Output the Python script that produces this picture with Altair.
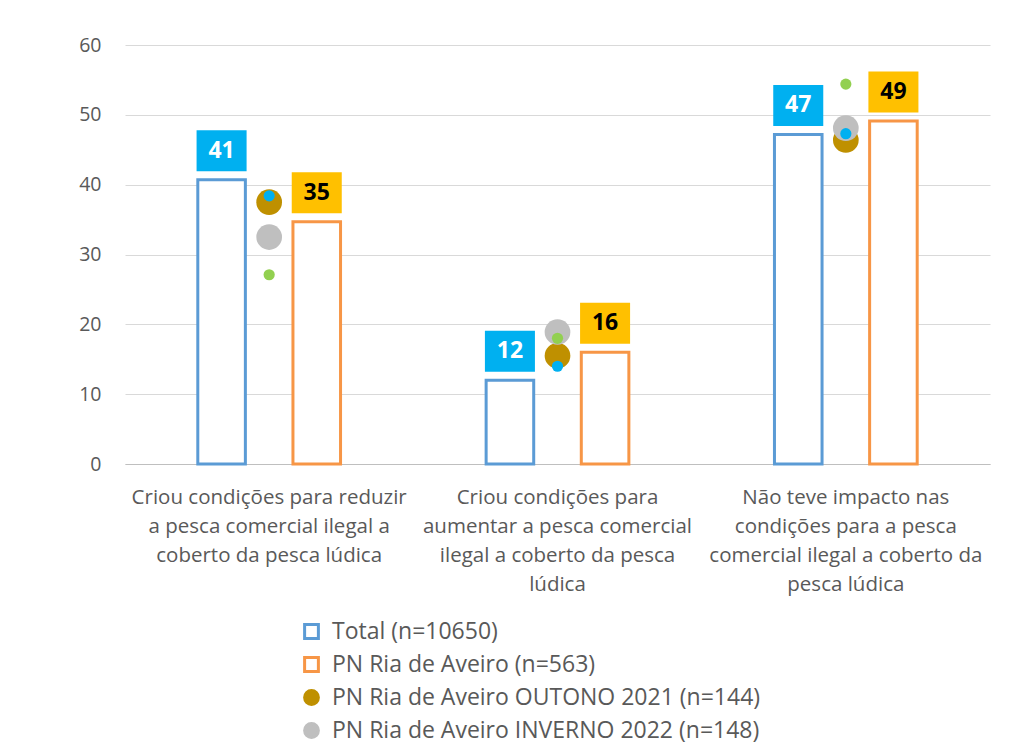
import altair as alt
import pandas as pd

categories = [
    "Criou condições para reduzir|a pesca comercial ilegal a|coberto da pesca lúdica",
    "Criou condições para|aumentar a pesca comercial|ilegal a coberto da pesca|lúdica",
    "Não teve impacto nas|condições para a pesca|comercial ilegal a coberto da|pesca lúdica",
]
total = [40.7, 12.0, 47.2]
pn_total = [34.7, 16.0, 49.1]
outono = [37.5, 15.5, 46.4]
inverno = [32.5, 18.9, 48.1]
blue_dots = [38.4, 14.0, 47.3]
green_dots = [27.1, 18.0, 54.4]
legend_labels = [
    "Total (n=10650)",
    "PN Ria de Aveiro (n=563)",
    "PN Ria de Aveiro OUTONO 2021 (n=144)",
    "PN Ria de Aveiro INVERNO 2022 (n=148)",
]

rows = []
for i, c in enumerate(categories):
    rows.append({"cat": c, "series": "total", "slot": "Total", "value": total[i]})
    rows.append({"cat": c, "series": "pn", "slot": "PN", "value": pn_total[i]})
    rows.append({"cat": c, "series": "outono", "slot": "mid", "value": outono[i]})
    rows.append({"cat": c, "series": "inverno", "slot": "mid", "value": inverno[i]})
    rows.append({"cat": c, "series": "blue", "slot": "mid", "value": blue_dots[i]})
    rows.append({"cat": c, "series": "green", "slot": "mid", "value": green_dots[i]})
df = pd.DataFrame(rows)

FONT = "Open Sans"
GREY_TXT = "#595959"

x_enc = alt.X(
    "cat:N",
    sort=categories,
    scale=alt.Scale(domain=categories, paddingInner=0, paddingOuter=0),
    axis=alt.Axis(
        title=None,
        labelAngle=0,
        labelExpr="split(datum.label, '|')",
        labelLimit=500,
        labelPadding=23,
        labelLineHeight=29,
        labelFontSize=20.5,
        ticks=False,
        domainColor="#BFBFBF",
        domainWidth=1,
        grid=False,
    ),
)
xo_enc = alt.XOffset(
    "slot:N",
    scale=alt.Scale(domain=["p1", "Total", "mid", "PN", "p2"], paddingInner=0, paddingOuter=0.53),
)
y_enc = alt.Y(
    "value:Q",
    scale=alt.Scale(domain=[0, 60], nice=False),
    axis=alt.Axis(
        title=None,
        values=[0, 10, 20, 30, 40, 50, 60],
        grid=True,
        gridColor="#D9D9D9",
        domain=False,
        ticks=False,
        labelPadding=24,
        labelFontSize=19.5,
    ),
)

base = alt.Chart(df).encode(x=x_enc, xOffset=xo_enc, y=y_enc)

def sel(s):
    return alt.datum.series == s

bar_total = base.transform_filter(sel("total")).mark_bar(
    fill="white", stroke="#5B9BD5", strokeWidth=3
)
bar_pn = base.transform_filter(sel("pn")).mark_bar(
    fill="white", stroke="#F79646", strokeWidth=3
)

box_path = "M-1.22,-1L1.22,-1L1.22,1L-1.22,1Z"
box_total = base.transform_filter(sel("total")).mark_point(
    shape=box_path, size=1681, filled=True, fill="#00B0F0", opacity=1, yOffset=-29
)
box_pn = base.transform_filter(sel("pn")).mark_point(
    shape=box_path, size=1681, filled=True, fill="#FFC000", opacity=1, yOffset=-29
)
txt_total = base.transform_filter(sel("total")).mark_text(
    font=FONT, fontSize=23, fontWeight="bold", color="white", dy=-29, baseline="middle"
).encode(text=alt.Text("value:Q", format=".0f"))
txt_pn = base.transform_filter(sel("pn")).mark_text(
    font=FONT, fontSize=23, fontWeight="bold", color="black", dy=-29, baseline="middle"
).encode(text=alt.Text("value:Q", format=".0f"))

pt_outono = base.transform_filter(sel("outono")).mark_point(
    shape="circle", size=660, filled=True, fill="#BF9000", opacity=1
)
pt_inverno = base.transform_filter(sel("inverno")).mark_point(
    shape="circle", size=660, filled=True, fill="#BFBFBF", opacity=1
)
pt_green = base.transform_filter(sel("green")).mark_point(
    shape="circle", size=125, filled=True, fill="#92D050", opacity=1
)
pt_blue = base.transform_filter(sel("blue")).mark_point(
    shape="circle", size=125, filled=True, fill="#00B0F0", opacity=1
)

leg_df = pd.DataFrame({"lbl": legend_labels})
legend_layer = alt.Chart(leg_df).transform_filter("false").mark_point(
    filled=True, opacity=1
).encode(
    shape=alt.Shape(
        "lbl:N",
        sort=legend_labels,
        scale=alt.Scale(domain=legend_labels, range=["square", "square", "circle", "circle"]),
        legend=alt.Legend(title=None),
    ),
    fill=alt.Fill(
        "lbl:N",
        sort=legend_labels,
        scale=alt.Scale(domain=legend_labels, range=["white", "white", "#BF9000", "#BFBFBF"]),
        legend=alt.Legend(title=None),
    ),
    stroke=alt.Stroke(
        "lbl:N",
        sort=legend_labels,
        scale=alt.Scale(domain=legend_labels, range=["#5B9BD5", "#F79646", "#BF9000", "#BFBFBF"]),
        legend=alt.Legend(title=None),
    ),
)

chart = alt.layer(
    bar_total, bar_pn, box_total, box_pn, txt_total, txt_pn,
    pt_outono, pt_inverno, pt_green, pt_blue, legend_layer,
).properties(
    width=865,
    height=419,
    autosize=alt.AutoSizeParams(type="none"),
    padding={"left": 117, "top": 37, "right": 16, "bottom": 280},
).configure_view(
    stroke=None
).configure_axis(
    labelFont=FONT, labelColor=GREY_TXT
).configure_legend(
    orient="none",
    legendX=175,
    legendY=575,
    direction="vertical",
    labelFont=FONT,
    labelFontSize=23,
    labelColor=GREY_TXT,
    symbolSize=190,
    symbolStrokeWidth=3,
    rowPadding=6,
    labelOffset=9,
    labelLimit=600,
)

chart.save("out.html", embed_options={"renderer": "svg", "actions": False})
